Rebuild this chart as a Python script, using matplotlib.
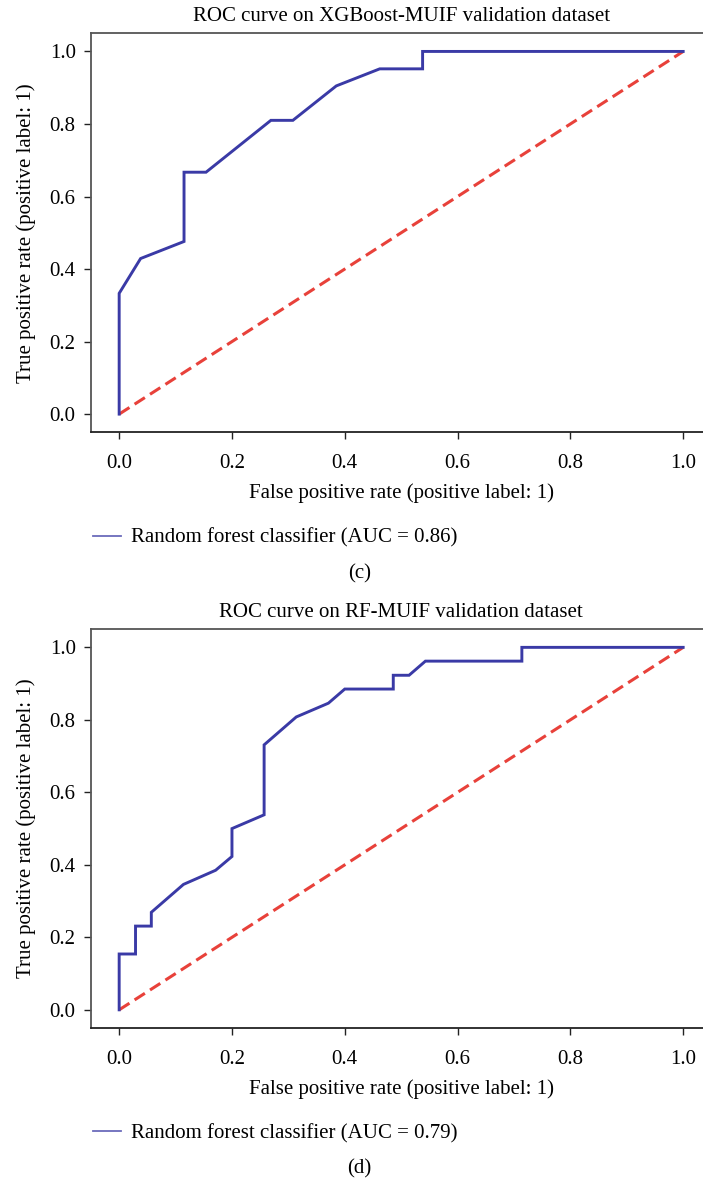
import matplotlib.pyplot as plt
from matplotlib.lines import Line2D

plt.rcParams['font.family'] = ['Liberation Serif', 'DejaVu Serif']

# ── data ──────────────────────────────────────────────────────────────────────
# (c) XGBoost-MUIF validation
fpr_c = [0.0, 0.0, 0.038, 0.115, 0.115, 0.154, 0.269, 0.308, 0.385, 0.462, 0.538, 0.538, 1.0]
tpr_c = [0.0, 0.333, 0.429, 0.476, 0.667, 0.667, 0.810, 0.810, 0.905, 0.952, 0.952, 1.0, 1.0]
auc_c = 0.86

# (d) RF-MUIF validation
fpr_d = [0.0, 0.0, 0.029, 0.029, 0.057, 0.057, 0.114, 0.171, 0.200, 0.200, 0.257, 0.257,
         0.314, 0.371, 0.400, 0.486, 0.486, 0.514, 0.543, 0.714, 0.714, 1.0]
tpr_d = [0.0, 0.154, 0.154, 0.231, 0.231, 0.269, 0.346, 0.385, 0.423, 0.500, 0.538, 0.731,
         0.808, 0.846, 0.885, 0.885, 0.923, 0.923, 0.962, 0.962, 1.0, 1.0]
auc_d = 0.79

titles = ["ROC curve on XGBoost-MUIF validation dataset",
          "ROC curve on RF-MUIF validation dataset"]
panel_tags = ["(c)", "(d)"]
ticks = [0.0, 0.2, 0.4, 0.6, 0.8, 1.0]

blue = '#3a3aa6'
red = '#e8413a'
fs = 15

fig = plt.figure(figsize=(7.03, 11.81), dpi=100)

# axes boxes in figure fractions (right spine runs off the page, like the source)
boxes = [[0.1294, 0.634, 0.8825, 0.3378],
         [0.1294, 0.1296, 0.8825, 0.3376]]
tag_y = [1 - 574 / 1181, 1 - 1169 / 1181]

for box, fpr, tpr, auc, title, tag, ty in zip(boxes, [fpr_c, fpr_d], [tpr_c, tpr_d],
                                           [auc_c, auc_d], titles, panel_tags, tag_y):
    ax = fig.add_axes(box)
    ax.plot(fpr, tpr, color=blue, lw=2.1, solid_joinstyle='miter', zorder=3)
    ax.plot([0, 1], [0, 1], color=red, lw=2.2, ls=(0, (4, 2)), zorder=2)
    ax.set_xlim(-0.05, 1.05)
    ax.set_ylim(-0.05, 1.05)
    ax.set_xticks(ticks)
    ax.set_yticks(ticks)
    ax.set_xticklabels([f"{t:.1f}" for t in ticks])
    ax.set_yticklabels([f"{t:.1f}" for t in ticks])
    ax.tick_params(labelsize=fs, length=5, width=1, color='#222222')
    ax.tick_params(axis='x', pad=11)
    ax.tick_params(axis='y', pad=6)
    for s in ['top', 'left']:
        ax.spines[s].set_color('#555555')
        ax.spines[s].set_linewidth(1.3)
    ax.spines['bottom'].set_color('#222222')
    ax.spines['bottom'].set_linewidth(1.3)
    ax.spines['right'].set_visible(False)
    ax.set_title(title, fontsize=fs, pad=9)
    ax.set_xlabel("False positive rate (positive label: 1)", fontsize=fs, labelpad=7)
    ax.set_ylabel("True positive rate (positive label: 1)", fontsize=fs, labelpad=10)
    ax.legend(handles=[Line2D([], [], color='#6b6bbb', lw=1.3)],
              labels=[f"Random forest classifier (AUC = {auc:.2f})"],
              loc='upper left', bbox_to_anchor=(-0.01, -0.22), frameon=False,
              fontsize=fs, handlelength=1.35, handletextpad=0.45, borderaxespad=0)
    fig.text(0.511, ty, tag, ha='center', va='center', fontsize=fs)

fig.savefig('out.png', dpi=100)
